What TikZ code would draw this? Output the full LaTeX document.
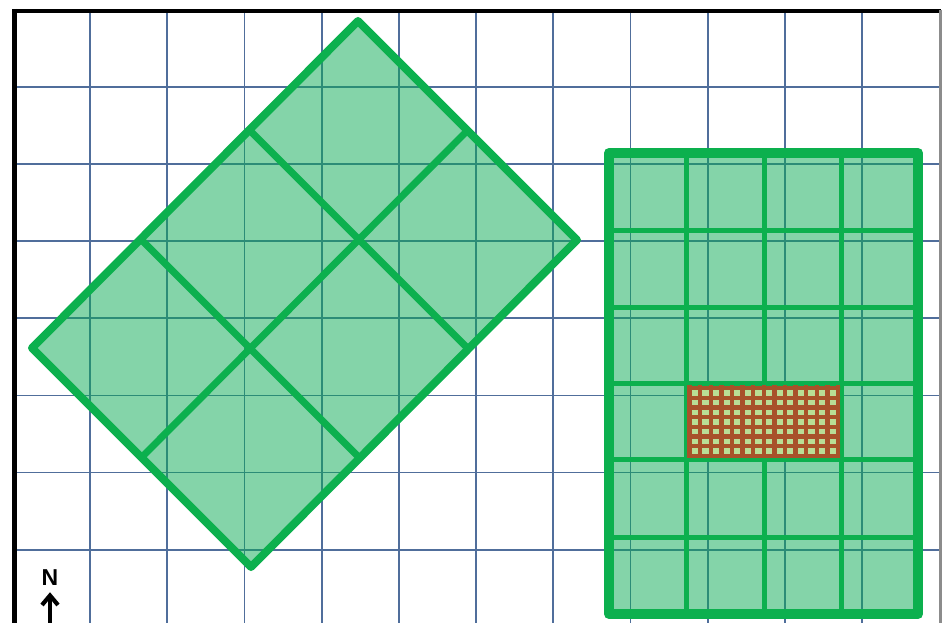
\documentclass[tikz,border=0pt]{standalone}
\usepackage{fontspec}
\usetikzlibrary{calc}
\newfontfamily\labfont{Liberation Sans}
\definecolor{gridc}{RGB}{80,110,155}
\definecolor{plotline}{RGB}{12,176,78}
\definecolor{plotfill}{RGB}{10,170,85}
\definecolor{hatchc}{RGB}{168,82,42}
\definecolor{hatchbg}{RGB}{185,222,150}
\tikzset{
  gridline/.style={draw=gridc, line width=1.8pt},
  outerplot/.style={draw=plotline, line width=8pt, line join=round, fill=plotfill, fill opacity=0.5, draw opacity=1},
  innerplot/.style={draw=plotline, line width=7pt, line cap=round},
  rectouter/.style={draw=plotline, line width=10pt, line join=round, fill=plotfill, fill opacity=0.5, draw opacity=1},
  rectinner/.style={draw=plotline, line width=5pt},
  hatchline/.style={draw=hatchc, line width=4.4pt},
}
\begin{document}
\begin{tikzpicture}[x=1pt,y=-1pt]
\useasboundingbox (0,0) rectangle (948,623);
\fill[white] (0,0) rectangle (948,623);
% grid
\foreach \k in {0,...,10} {
  \draw[gridline] (90+\k*77.2,11) -- (90+\k*77.2,623);
}
\foreach \k in {0,...,6} {
  \draw[gridline] (14,87+\k*77.1) -- (940,87+\k*77.1);
}
% borders
\draw[black, line width=4pt] (12,11) -- (941,11);
\draw[black, line width=5pt] (14,9) -- (14,623);
\draw[black!45, line width=3pt] (940,10) -- (940,623);
% tilted plot
\coordinate (T) at (358,21);
\coordinate (R) at (577,240);
\coordinate (B) at (251,567);
\coordinate (L) at (32,348);
\path[outerplot] (T) -- (R) -- (B) -- (L) -- cycle;
\draw[innerplot] ($(T)!0.5!(R)$) -- ($(L)!0.5!(B)$);
\draw[innerplot] ($(T)!0.3333!(L)$) -- ($(R)!0.3333!(B)$);
\draw[innerplot] ($(T)!0.6667!(L)$) -- ($(R)!0.6667!(B)$);
% right plot
\path[rectouter] (609,153) rectangle (918,614);
\foreach \x in {686,764,841} {
  \draw[rectinner] (\x,153) -- (\x,614);
}
\foreach \y in {230,307,383,459,537} {
  \draw[rectinner] (609,\y) -- (918,\y);
}
% hatch
\begin{scope}
\clip (687,385.5) rectangle (840,457.5);
\fill[hatchbg] (687,385.5) rectangle (840,457.5);
\foreach \i in {0,...,14} {
  \draw[hatchline] (689.5+\i*10.6,385) -- (689.5+\i*10.6,459);
}
\foreach \j in {0,...,7} {
  \draw[hatchline] (686,388+\j*9.7) -- (841,388+\j*9.7);
}
\end{scope}
% north arrow
\node[font=\labfont\bfseries\fontsize{23}{23}\selectfont, inner sep=0pt] (north) at (50,577.5) {N};
\coordinate (arrowbase) at (50,623);
\draw[black, line width=4.2pt] (arrowbase) -- (50,595);
\draw[black, line width=4.2pt, line join=miter] (42,605) -- (50,595.5) -- (58,605);
\end{tikzpicture}
\end{document}
